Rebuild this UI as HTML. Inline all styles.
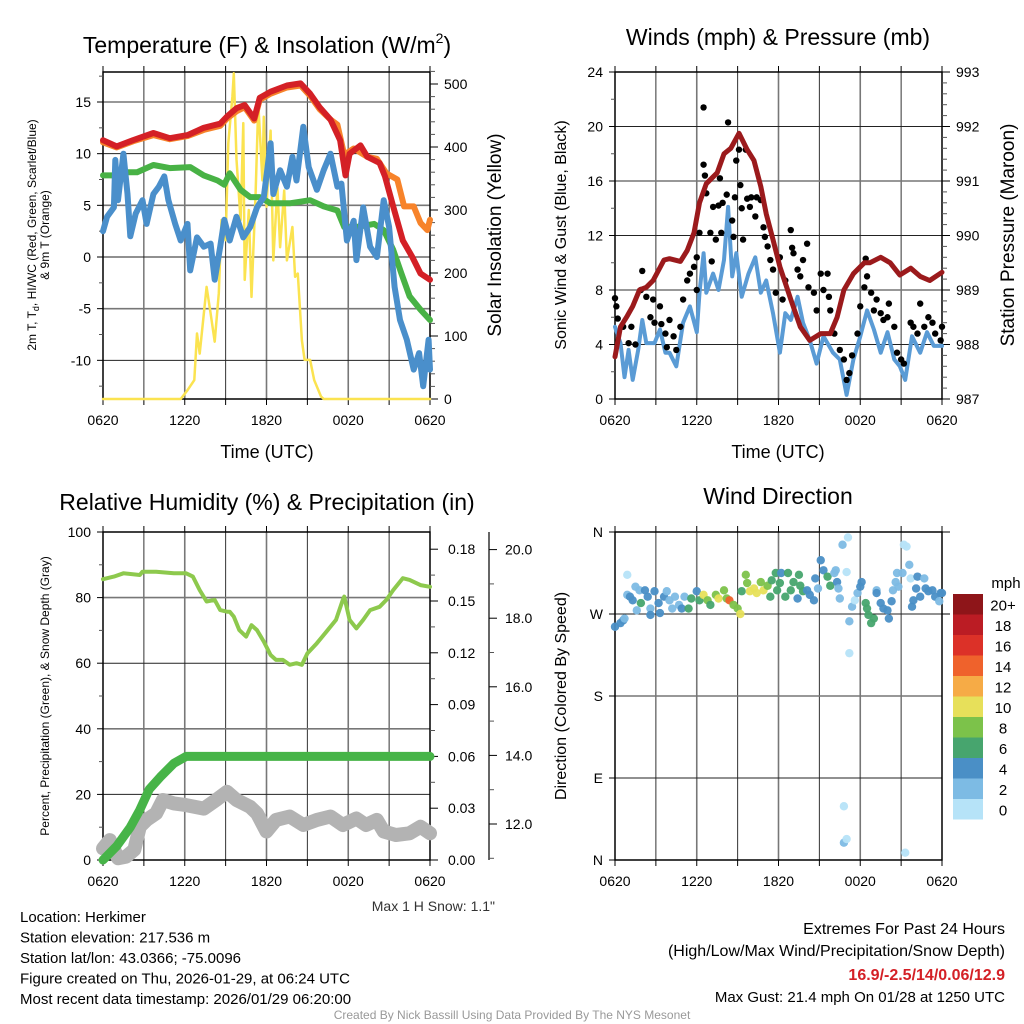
<!DOCTYPE html>
<html><head><meta charset="utf-8"><style>
body{margin:0;background:#fff}
svg{display:block;font-family:"Liberation Sans",sans-serif}
</style></head><body>
<svg id="c" width="1024" height="1024" viewBox="0 0 1024 1024"></svg>
<script>
// ---------- data ----------
const xTickLabels=["0620","1220","1820","0020","0620"];
// Panel 1 (hours since 0620, value)
const redT=[[0,11.3],[1,10.7],[2.2,11.3],[3.7,12.0],[4.9,11.5],[6.2,11.8],[7.4,12.5],[8.6,12.9],[9.1,13.6],[9.8,14.4],[10.4,14.7],[11.1,13.4],[11.5,15.4],[12.3,16.0],[13.5,16.6],[14.5,16.8],[15.2,15.8],[15.9,14.5],[16.7,13.3],[17.4,11.3],[17.8,7.9],[18.1,10.0],[18.9,10.8],[19.4,9.7],[20.3,9.1],[20.7,7.8],[21.3,4.9],[22.0,1.6],[22.7,0],[23.3,-1.6],[24,-2.2]];
const orangeT=[[0,11.1],[1,10.6],[2.2,11.2],[3.7,11.8],[4.9,11.4],[6.2,11.7],[7.4,12.3],[8.6,12.7],[9.1,13.4],[9.8,14.1],[10.4,14.5],[11.1,13.2],[11.5,15.2],[12.3,15.8],[13.5,16.4],[14.5,16.6],[15.2,15.6],[15.9,14.3],[16.7,13.3],[17.2,12.8],[17.7,9.9],[18.4,10.5],[19.4,9.7],[20.1,9.5],[20.8,8.1],[21.6,7.5],[22.1,4.9],[22.8,4.9],[23.3,3.3],[23.8,2.6],[24,3.6]];
const greenTd=[[0,7.9],[0.8,7.9],[1.5,8.2],[2.5,8.2],[3.7,8.9],[4.9,8.6],[6.4,8.7],[7.4,7.9],[8.4,7.4],[8.9,7.0],[9.3,8.1],[10.1,6.5],[10.8,5.8],[11.5,5.8],[12.3,5.2],[13.7,5.2],[15.2,5.5],[16.2,4.9],[17.2,4.5],[17.7,2.9],[18.6,2.9],[19.9,3.2],[20.6,2.6],[21.3,0.7],[21.9,-1.6],[22.5,-3.8],[23.3,-5.1],[24,-6.1]];
const blueWC=[[0,2.5],[0.3,3.9],[0.8,4.8],[0.9,9.4],[1.1,5.5],[1.5,10.0],[1.8,6.1],[2.0,2.0],[2.4,4.2],[2.9,5.5],[3.2,3.2],[3.7,6.1],[4.1,6.8],[4.5,7.8],[4.8,5.5],[5.3,3.2],[5.7,1.6],[6.2,3.2],[6.4,-1.3],[6.9,1.9],[7.4,1.0],[7.9,1.3],[8.2,-2.2],[8.6,1.0],[8.9,3.6],[9.3,1.6],[9.8,3.9],[10.3,1.9],[10.8,2.9],[11.3,4.8],[11.8,5.8],[12.3,11.0],[12.5,6.1],[13.0,8.4],[13.5,6.8],[13.9,9.7],[14.2,7.4],[14.7,12.6],[15.1,8.7],[15.7,6.5],[16.2,8.4],[16.7,10.0],[17.2,6.8],[17.5,7.1],[17.9,1.6],[18.4,3.5],[18.6,-0.3],[19.1,4.8],[19.6,1.0],[20.1,0],[20.6,5.5],[21.0,2.9],[21.4,-2.9],[21.8,-6.1],[22.3,-8.0],[22.8,-10.9],[23.2,-9.3],[23.5,-12.5],[23.9,-8.0],[24,-10.9]];
const solar=[[0,0],[5.7,0],[6.2,14],[6.7,30],[6.9,104],[7.1,72],[7.6,178],[7.9,136],[8.2,91],[8.5,168],[8.7,284],[9.0,252],[9.2,406],[9.5,480],[9.6,517],[9.8,380],[10.1,284],[10.3,438],[10.4,189],[10.7,300],[10.9,162],[11.2,326],[11.4,469],[11.7,347],[11.8,448],[12.0,305],[12.3,426],[12.5,220],[12.8,336],[13.0,241],[13.3,331],[13.5,220],[13.9,273],[14.1,194],[14.3,199],[14.6,93],[14.8,62],[15.2,62],[15.5,30],[16.0,4],[16.2,0],[24,0]];
// Panel 2
const pressureSpd=[[0,3.1],[0.4,5.3],[0.9,6.1],[1.3,6.8],[1.8,8.0],[2.3,8.2],[2.8,8.7],[3.6,10.2],[4.0,10.3],[4.8,10.1],[5.3,10.9],[5.8,12.2],[6.2,14.4],[6.7,15.8],[7.5,16.6],[8.0,18.0],[8.5,18.4],[9.1,19.5],[9.7,18.3],[10.2,17.5],[10.7,15.6],[11.1,13.6],[11.6,11.7],[12.1,9.7],[12.9,7.3],[13.6,5.3],[14.3,4.3],[15.1,4.8],[15.8,4.8],[16.3,6.0],[16.8,8.0],[17.5,9.2],[18.3,10.0],[18.7,10.0],[19.5,10.4],[20.2,10.0],[20.9,9.1],[21.7,9.6],[22.4,9.0],[23.1,8.7],[24,9.3]];
const windSpd=[[0,5.3],[0.4,4.1],[0.7,1.6],[1.0,3.6],[1.3,1.4],[1.7,3.6],[2.0,5.8],[2.3,4.1],[2.9,4.1],[3.3,5.1],[3.7,3.4],[4.0,3.4],[4.5,2.4],[5.0,5.6],[5.5,6.8],[6.0,4.9],[6.2,7.8],[6.5,10.7],[6.7,7.8],[7.2,9.2],[7.6,8.0],[8.0,10.2],[8.3,14.1],[8.6,9.0],[8.9,10.7],[9.3,7.5],[9.8,9.2],[10.3,10.4],[10.7,7.8],[11.1,8.7],[11.6,6.3],[12.1,3.4],[12.5,6.3],[12.9,5.8],[13.4,7.5],[13.8,5.6],[14.3,4.3],[14.8,2.6],[15.3,4.6],[16.0,3.4],[16.5,2.9],[17.0,0.3],[17.5,2.9],[18.0,4.6],[18.5,6.5],[19.0,5.1],[19.5,3.4],[20.0,4.9],[20.5,2.9],[20.9,2.4],[21.3,1.4],[21.8,4.6],[22.4,3.4],[22.9,4.9],[23.4,3.9],[24,3.9]];
const gustT=[0,0.1,0.2,0.6,1.0,1.2,1.5,2.0,1.9,2.3,2.6,2.8,2.9,3.3,3.4,3.7,3.8,4.0,4.3,4.5,4.8,5.0,5.3,5.5,5.8,6.0,6.0,6.2,6.5,6.5,6.6,6.7,7.0,7.1,7.2,7.4,7.6,7.7,7.8,7.9,8.3,8.2,8.6,8.7,8.8,8.9,9.1,9.2,9.3,9.4,9.6,9.7,9.9,10.0,10.3,10.4,10.7,10.9,11.0,11.2,11.4,11.6,11.8,12.1,12.3,12.5,12.9,13.0,13.1,13.4,13.6,13.8,14.1,14.2,14.6,14.8,15.1,15.3,15.6,15.7,15.8,16.1,16.5,16.8,17.0,17.2,17.4,17.8,18.0,18.3,18.4,18.5,18.8,19.0,19.2,19.5,19.7,20.0,20.1,20.5,20.7,21.0,21.2,21.7,21.9,22.2,22.4,22.7,23.0,23.3,23.5,24,23.9];
const gustV=[7.4,6.8,5.9,5.3,4.1,5.3,4.0,9.4,8.0,7.5,6.0,7.3,5.6,6.8,5.5,4.8,3.8,5.8,4.6,3.6,5.3,7.3,8.7,9.2,9.7,8.0,10.4,12.2,21.4,17.2,16.4,15.1,12.2,10.1,14.1,11.7,14.2,16.2,12.2,14.4,20.3,15.0,13.1,11.9,14.8,17.5,18.3,15.7,14.0,11.7,18.3,14.7,14.1,14.8,13.4,14.8,14.6,12.6,11.9,11.2,10.2,9.5,7.8,10.4,7.3,8.7,12.4,11.1,10.7,9.5,9.0,10.2,11.4,8.2,7.8,6.5,9.2,8.0,9.2,7.5,6.5,4.8,3.6,2.9,1.4,1.9,3.2,4.8,6.8,8.2,10.3,9.0,7.8,6.5,7.3,6.3,5.8,6.0,7.0,5.3,3.4,2.9,2.6,5.6,5.3,4.8,7.0,5.3,6.0,5.6,4.8,5.3,4.3];
// Panel 3
const rh=[[0,85.6],[0.8,86.4],[1.5,87.4],[2.7,86.9],[2.9,87.9],[3.9,87.9],[5.2,87.4],[6.1,87.4],[6.6,86.4],[7.1,82.3],[7.6,78.8],[8.2,79.3],[8.6,76.2],[9.1,75.7],[9.3,75.7],[9.6,74.2],[10.0,70.1],[10.5,68.1],[10.9,71.6],[11.3,70.1],[11.8,66.6],[12.3,62.5],[12.7,61.0],[13.2,61.0],[13.7,59.5],[14.2,60.0],[14.6,59.5],[15.0,63.0],[15.7,66.1],[16.4,69.6],[17.1,73.2],[17.6,79.3],[17.7,80.3],[18.1,73.2],[18.6,70.6],[19.1,73.2],[19.6,76.2],[20.3,77.2],[20.8,79.3],[21.3,82.3],[22.0,85.9],[22.5,85.4],[23.3,83.8],[24,83.3]];
const precip=[[0,0],[1.0,0.008],[2.0,0.019],[2.7,0.029],[3.4,0.041],[4.2,0.048],[5.2,0.056],[6.1,0.06],[24,0.06]];
const snow=[[0,11.29],[0.5,11.53],[1.1,11.0],[1.7,11.05],[2.3,11.25],[2.7,11.92],[3.2,12.12],[3.9,12.31],[4.4,12.7],[5.2,12.6],[6.1,12.55],[7.4,12.45],[8.3,12.7],[9.1,12.94],[9.8,12.7],[10.8,12.5],[11.3,12.31],[12.0,11.78],[12.7,12.12],[13.7,12.22],[14.7,11.97],[15.7,12.12],[16.7,12.22],[17.6,11.97],[18.6,12.16],[19.3,11.97],[20.1,12.12],[20.6,11.78],[21.5,11.68],[22.5,11.73],[23.3,11.92],[24,11.73]];
// Panel 4 (hour, degrees, mph)
const dirT=[0,0.4,0.6,0.7,0.9,0.9,1.1,1.3,1.5,1.6,1.8,1.9,2.2,2.4,2.6,2.6,2.9,3.2,3.3,3.6,3.8,4.0,4.2,4.4,4.7,4.9,5.1,5.4,5.6,6.0,6.2,6.5,6.8,7.0,7.4,7.6,8.0,8.2,8.4,8.7,9.0,9.2,9.3,9.6,9.7,9.9,10.2,10.4,10.7,10.9,11.2,11.4,11.5,11.8,11.9,12.1,12.2,12.5,12.7,12.9,13.1,13.4,13.5,13.6,13.8,14.1,14.3,14.6,14.7,14.9,15.1,15.3,15.6,15.8,16.1,16.2,16.3,16.4,16.5,16.7,17.1,17.0,16.8,16.8,17.0,17.2,17.2,17.4,17.6,17.8,18.0,18.1,18.4,18.5,18.6,18.8,19.0,19.2,19.2,19.5,19.7,20.0,20.1,20.3,20.4,20.6,20.7,20.8,21.1,21.2,21.4,21.3,21.6,21.7,21.8,21.9,22.1,22.2,22.4,22.7,22.8,23.0,23.3,23.5,23.8,23.9,24];
const dirDeg=[256,260,263,265,313,291,289,285,300,274,296,282,296,289,276,269,295,282,271,289,295,285,276,289,280,276,289,276,287,295,285,291,285,280,291,287,296,287,285,280,276,270,295,313,304,295,298,293,305,296,301,289,307,315,296,304,315,289,315,296,305,287,313,301,295,296,291,285,309,298,329,318,311,301,315,318,305,298,287,346,354,316,59,19,23,227,262,278,285,293,300,305,282,276,269,260,265,296,293,282,276,274,265,284,296,305,315,300,315,346,344,8,324,309,278,285,298,311,289,309,298,295,296,289,284,293,293];
const dirSpd=[3,3,3,2,0,2,3,3,2,2,2,6,3,3,2,3,3,3,3,3,2,2,2,2,2,3,2,6,6,3,6,10,8,6,8,10,8,8,14,8,8,10,6,8,8,10,10,10,8,10,8,6,6,6,6,6,4,6,6,6,6,4,6,6,6,4,4,4,4,2,4,4,6,6,2,2,4,2,2,2,0,0,0,2,0,0,2,2,0,2,4,4,6,6,6,6,6,2,4,4,4,4,4,4,2,2,2,2,2,0,0,0,2,0,4,4,4,4,4,2,4,4,4,4,2,4,4];
const spdColors=["#b6e3f8","#7dbbe4","#4a8fc6","#47a56e","#7cc24a","#e7e05a","#f6ab46","#ef622c","#dc3128","#bb1c24","#8e1519"];
const spdLabels=["0","2","4","6","8","10","12","14","16","18","20+"];

// ---------- helpers ----------
const NS="http://www.w3.org/2000/svg";
const svg=document.getElementById('c');
function mk(tag,attrs,parent){const e=document.createElementNS(NS,tag);for(const k in attrs)e.setAttribute(k,attrs[k]);(parent||svg).appendChild(e);return e;}
function txt(s,x,y,size,opts,name){opts=opts||{};const t=mk('text',{x:x,y:y,'font-size':size,'text-anchor':opts.anchor||'middle',fill:opts.fill||'#000','font-weight':opts.weight||'normal'});
 if(opts.rot)t.setAttribute('transform','rotate(-90 '+x+' '+y+')');t.textContent=s;
 
 
 return t;}
function lin(d0,d1,p0,p1){return v=>p0+(v-d0)/(d1-d0)*(p1-p0);}
function pathOf(pts,sx,sy){return pts.map((p,i)=>(i?'L':'M')+sx(p[0]).toFixed(1)+' '+sy(p[1]).toFixed(1)).join('');}
function line(pts,sx,sy,color,w,name){const p=mk('path',{d:pathOf(pts,sx,sy),fill:'none',stroke:color,'stroke-width':w,'stroke-linejoin':'round','stroke-linecap':'round'});
 
 return p;}

function frame(x0,x1,y0,y1,hLines,name){
 const g=mk('g',{});
 
 
 for(let k=1;k<8;k++){const x=x0+(x1-x0)*k/8;mk('line',{x1:x,x2:x,y1:y0,y2:y1,stroke:k%2?'#333':'#777','stroke-width':k%2?1:1.6},g);
  mk('line',{x1:x,x2:x,y1:y1,y2:y1+6,stroke:'#000','stroke-width':1},g);mk('line',{x1:x,x2:x,y1:y0,y2:y0-6,stroke:'#000','stroke-width':1},g);}
 mk('line',{x1:x0,x2:x0,y1:y1,y2:y1+6,stroke:'#000'},g);mk('line',{x1:x1,x2:x1,y1:y1,y2:y1+6,stroke:'#000'},g);
 mk('line',{x1:x0,x2:x0,y1:y0,y2:y0-6,stroke:'#000'},g);mk('line',{x1:x1,x2:x1,y1:y0,y2:y0-6,stroke:'#000'},g);
 hLines.forEach((y,i)=>{mk('line',{x1:x0,x2:x1,y1:y,y2:y,stroke:i%2?'#777':'#222','stroke-width':i%2?1.6:1},g);});
 mk('rect',{x:x0,y:y0,width:x1-x0,height:y1-y0,fill:'none',stroke:'#000','stroke-width':1.5},g);
 xTickLabels.forEach((s,i)=>txt(s,x0+(x1-x0)*i/4,y1+26,14,{},'x-tick-label'));
}
function leftTicks(x,vals,sy,labels,minor,name){vals.forEach((v,i)=>{mk('line',{x1:x-6,x2:x,y1:sy(v),y2:sy(v),stroke:'#000'});if(labels)txt(labels[i],x-12,sy(v)+5,14,{anchor:'end'},name);});
 (minor||[]).forEach(v=>mk('line',{x1:x-4,x2:x,y1:sy(v),y2:sy(v),stroke:'#555'}));}
function rightTicks(x,vals,sy,labels,minor,name,lx){vals.forEach((v,i)=>{mk('line',{x1:x,x2:x+8,y1:sy(v),y2:sy(v),stroke:'#000'});if(labels)txt(labels[i],lx||x+14,sy(v)+5,14,{anchor:'start'},name);});
 (minor||[]).forEach(v=>mk('line',{x1:x,x2:x+5,y1:sy(v),y2:sy(v),stroke:'#555'}));}
function range(a,b,s){const r=[];for(let v=a;v<=b+1e-9;v+=s)r.push(+v.toFixed(4));return r;}

// ---------- Panel 1 ----------
{const x0=103,x1=430,y0=72,y1=399;const sx=lin(0,24,x0,x1);const sy=lin(0,15,257,102);const sy2=lin(0,500,399,84);
 const maj=[-10,-5,0,5,10,15];
 frame(x0,x1,y0,y1,maj.map(sy),'temperature-panel');
 leftTicks(x0,maj,sy,maj.map(String),range(-12.5,17.5,5),'temp-tick-label');
 rightTicks(x1,[0,100,200,300,400,500],sy2,["0","100","200","300","400","500"],range(20,520,20).filter(v=>v%100),'solar-tick-label');
 line(solar,sx,sy2,'#fbe350',2.5,'solar-insolation-line');
 line(orangeT,sx,sy,'#f7832a',6,'9m-temp-line');
 line(redT,sx,sy,'#d42026',6,'2m-temp-line');
 line(greenTd,sx,sy,'#48b245',6,'dewpoint-line');
 line(blueWC,sx,sy,'#4a8fcb',6,'windchill-line');
 const t=txt('',267,53,23,{},'temperature-title');t.innerHTML='Temperature (F) &amp; Insolation (W/m<tspan font-size="14" dy="-10">2</tspan><tspan dy="10">)</tspan>';
 txt('Time (UTC)',267,458,18,{},'x-axis-title');
 const a=txt('',36,235,12,{rot:1},'temp-y-axis-title');a.innerHTML='2m T, T<tspan font-size="9" dy="3">d</tspan><tspan dy="-3">, HI/WC (Red, Green, Scarlet/Blue)</tspan>';
 txt('& 9m T (Orange)',49,235,12,{rot:1},'temp-y-axis-title-2');
 txt('Solar Insolation (Yellow)',501,235,19,{rot:1},'solar-y-axis-title');
}
// ---------- Panel 2 ----------
{const x0=615,x1=942,y0=72,y1=399;const sx=lin(0,24,x0,x1);const sy=lin(0,24,y1,y0);const syp=lin(987,993,y1,y0);
 const maj=[0,4,8,12,16,20,24];
 frame(x0,x1,y0,y1,maj.slice(1,6).map(sy),'winds-panel');
 leftTicks(x0,maj,sy,maj.map(String),range(2,22,4),'wind-tick-label');
 const pm=[987,988,989,990,991,992,993];
 rightTicks(x1,pm,syp,pm.map(String),range(987.2,992.8,0.2).filter(v=>Math.abs(v-Math.round(v))>0.01),'pressure-tick-label');
 line(windSpd,sx,sy,'#5a9bd5',4,'sonic-wind-line');
 gustT.forEach((t,i)=>{const c=mk('circle',{cx:sx(t),cy:sy(gustV[i]),r:3.2,fill:'#000'});
  
  });
 line(pressureSpd.map(p=>[p[0],987+p[1]/4]),sx,syp,'#9b1a1c',5,'pressure-line');
 txt('Winds (mph) & Pressure (mb)',778,45,23,{},'winds-title');
 txt('Time (UTC)',778,458,18,{},'x-axis-title');
 txt('Sonic Wind & Gust (Blue, Black)',566,235,16,{rot:1},'wind-y-axis-title');
 txt('Station Pressure (Maroon)',1014,235,19,{rot:1},'pressure-y-axis-title');
}
// ---------- Panel 3 ----------
{const x0=103,x1=430,y0=532,y1=860;const sx=lin(0,24,x0,x1);const sy=lin(0,100,y1,y0);const syP=lin(0,0.03,860,808.2);const syS=lin(12,14,824,755.4);
 const maj=[0,20,40,60,80,100];
 frame(x0,x1,y0,y1,[20,40,60,80].map(sy),'humidity-panel');
 leftTicks(x0,maj,sy,maj.map(String),range(10,90,20),'percent-tick-label');
 const pv=[0,0.03,0.06,0.09,0.12,0.15,0.18];
 rightTicks(x1,pv,syP,pv.map(v=>v.toFixed(2)),range(0.015,0.195,0.03).filter(v=>syP(v)>=y0),'precip-tick-label',448);
 mk('line',{x1:489,x2:489,y1:y0,y2:y1,stroke:'#000','stroke-width':1.2});
 const sv=[12,14,16,18,20];
 rightTicks(489,sv,syS,sv.map(v=>v.toFixed(1)),[11,13,15,17,19],'snow-tick-label',505);
 line(snow,sx,syS,'#b3b3b3',14,'snow-depth-line');
 line(precip,sx,syP,'#47b448',9,'precipitation-line');
 line(rh,sx,sy,'#8dc94d',4,'relative-humidity-line');
 txt('Relative Humidity (%) & Precipitation (in)',267,510,23,{},'humidity-title');
 txt('Percent, Precipitation (Green), & Snow Depth (Gray)',49,696,12,{rot:1},'humidity-y-axis-title');
 txt('Max 1 H Snow: 1.1"',495,911,14,{anchor:'end',fill:'#333'},'max-snow-note');
}
// ---------- Panel 4 ----------
{const x0=615,x1=942,y0=532,y1=860;const sx=lin(0,24,x0,x1);const sy=lin(0,360,y1,y0);
 frame(x0,x1,y0,y1,[90,180,270].map(sy),'wind-direction-panel');
 const dl=["N","E","S","W","N"];
 leftTicks(x0,[0,90,180,270,360],sy,dl,[],'direction-tick-label');
 mk('line',{x1:x1,x2:x1+8,y1:sy(270),y2:sy(270),stroke:'#000'});mk('line',{x1:x1,x2:x1+8,y1:sy(360),y2:sy(360),stroke:'#000'});
 dirT.forEach((t,i)=>{const c=mk('circle',{cx:sx(t),cy:sy(dirDeg[i]),r:4.2,fill:spdColors[Math.min(10,Math.ceil(dirSpd[i]/2))],opacity:0.95});
  
  });
 txt('Wind Direction',778,504,23,{},'wind-direction-title');
 txt('Direction (Colored By Speed)',566,696,16,{rot:1},'direction-y-axis-title');
 const cb=mk('g',{});
 const top=594,h=20.5;
 spdColors.forEach((c,i)=>{const y=top+(10-i)*h;mk('rect',{x:953,y:y,width:30,height:h,fill:c},cb);txt(spdLabels[i],1003,y+h/2+6,15,{},'colorbar-label');});
 txt('mph',1006,588,15,{},'colorbar-title');
}
// ---------- footer text ----------
["Location: Herkimer","Station elevation: 217.536 m","Station lat/lon: 43.0366; -75.0096","Figure created on Thu, 2026-01-29, at 06:24 UTC","Most recent data timestamp: 2026/01/29 06:20:00"].forEach((s,i)=>txt(s,20,922+i*20.5,15,{anchor:'start'},'station-info-line'));
txt('Extremes For Past 24 Hours',1005,934,16,{anchor:'end'},'extremes-title');
txt('(High/Low/Max Wind/Precipitation/Snow Depth)',1005,956,16,{anchor:'end'},'extremes-subtitle');
txt('16.9/-2.5/14/0.06/12.9',1005,980,16,{anchor:'end',fill:'#d42026',weight:'bold'},'extremes-values');
txt('Max Gust: 21.4 mph On 01/28 at 1250 UTC',1005,1002,15,{anchor:'end'},'max-gust-line');
txt('Created By Nick Bassill Using Data Provided By The NYS Mesonet',512,1019,12,{fill:'#999'},'credit-line');
</script>
</body></html>
